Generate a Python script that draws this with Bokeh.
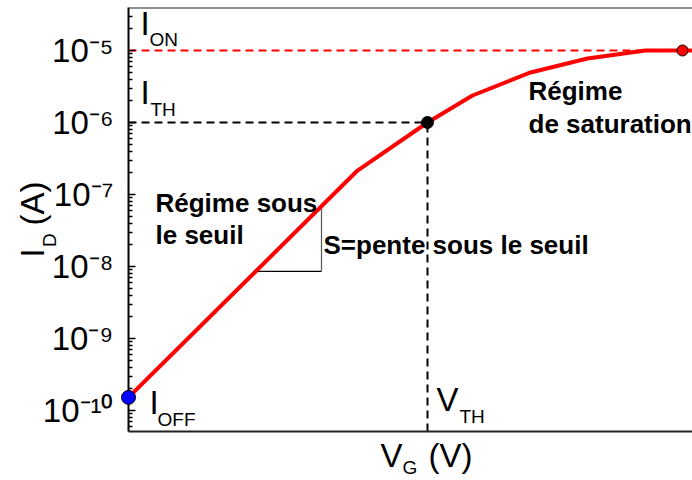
import math
from bokeh.plotting import figure
from bokeh.models import Range1d, FixedTicker, Span, CustomJSTickFormatter
from bokeh.core.properties import value
from bokeh.embed import file_html
from bokeh.resources import INLINE

FONT = "Liberation Sans"

# ---- data ----
vg = [0.0, 2.29, 2.99, 3.44, 4.02, 4.59, 5.17, 5.54, 6.0]
id_a = [1.52e-10, 2.15e-7, 1.0e-6, 2.37e-6, 4.95e-6, 7.74e-6, 1.0e-5, 1.0e-5, 1.0e-5]
i_off = 1.52e-10
i_th = 1.0e-6
i_on = 1.0e-5
v_th = 2.99
v_on = 5.54
slope_x = [1.27, 1.93, 1.93]
slope_y = [8.53e-9, 8.53e-9, 6.59e-8]
exponents = [-10, -9, -8, -7, -6, -5]
tick_labels = ["10\u207b\u00b9\u2070", "10\u207b\u2079", "10\u207b\u2078",
               "10\u207b\u2077", "10\u207b\u2076", "10\u207b\u2075"]

XMIN, XMAX = 0.0, 5.64
YMIN, YMAX = 10 ** -10.292, 10 ** -4.403

p = figure(width=692, height=480, y_axis_type="log",
           x_range=Range1d(XMIN, XMAX), y_range=Range1d(YMIN, YMAX),
           output_backend="svg", toolbar_location=None,
           min_border_left=128, min_border_right=0, min_border_top=7,
           min_border_bottom=49)
p.outline_line_color = None
p.xgrid.visible = False
p.ygrid.visible = False
p.background_fill_color = "white"
p.border_fill_color = "white"

# y axis
major = [10.0 ** e for e in exponents]
minor = [k * 10.0 ** e for e in range(-11, -4) for k in range(2, 10)]
yax = p.yaxis[0]
yax.ticker = FixedTicker(ticks=major, minor_ticks=minor)
yax.formatter = CustomJSTickFormatter(
    args=dict(labels=tick_labels, exps=exponents),
    code="const e = Math.round(Math.log10(tick)); const i = exps.indexOf(e); return i >= 0 ? labels[i] : '';")
yax.axis_line_width = 2
yax.axis_line_color = "black"
yax.major_tick_in = 7
yax.major_tick_out = 0
yax.minor_tick_in = 4
yax.minor_tick_out = 0
yax.major_tick_line_width = 1.5
yax.minor_tick_line_width = 1.5
yax.major_label_standoff = 15
yax.major_label_text_font = FONT
yax.major_label_text_font_size = "33px"
yax.major_label_text_color = "black"

# x axis: line only
xax = p.xaxis[0]
xax.ticker = FixedTicker(ticks=[])
xax.major_label_text_font_size = "0px"
xax.axis_line_width = 2
xax.axis_line_color = "#222222"
xax.major_tick_line_color = None
xax.minor_tick_line_color = None

p.add_layout(Span(location=YMAX, dimension="width", line_color="#222222", line_width=2))

# reference dashed lines
p.line([XMIN, XMAX], [i_on, i_on], line_color="#ff0000", line_width=2, line_dash="8 5")
p.line([XMIN, v_th], [i_th, i_th], line_color="black", line_width=2, line_dash="8 5")
p.line([v_th, v_th], [YMIN, i_th], line_color="black", line_width=2, line_dash="8 5")

# slope triangle
p.line(slope_x[:2], slope_y[:2], line_color="black", line_width=1.2)
p.line(slope_x[1:], slope_y[1:], line_color="#555555", line_width=1.2)

# curve
p.line(vg, id_a, line_color="#ff0000", line_width=4)

# markers
p.scatter([XMIN], [i_off], size=14, fill_color="#0000ff", line_color="black",
          line_width=1, level="overlay")
p.scatter([v_th], [i_th], size=12, fill_color="black", line_color="black")
p.scatter([v_on], [i_on], size=11, fill_color="#ff0000", line_color="black", line_width=1)


def txt(x, y, t, size, bold=False, angle=0.0, level="glyph"):
    fs = float(size.replace("px", ""))
    shift = 0.3 * fs
    xo, yo = (-shift, 0) if angle else (0, -shift)
    p.text(x=x, y=y, text=t, text_font=value(FONT), text_font_size=value(size),
           text_color="black", text_font_style="bold" if bold else "normal",
           text_baseline="alphabetic", text_align="left", angle=angle,
           x_offset=xo, y_offset=yo, level=level)


txt([0.12, 0.12, 0.21, 3.08], [1.72e-5, 1.90e-6, 9.4e-11, 1.03e-10],
    ["I", "I", "I", "V"], "33px")
txt([0.21, 0.22, 0.29, 3.31], [1.17e-5, 1.25e-6, 6.19e-11, 6.8e-11],
    ["ON", "TH", "OFF", "TH"], "19px")
txt([0.27, 0.27, 1.95, 4.00, 4.00], [6.0e-8, 2.15e-8, 1.56e-8, 2.16e-6, 7.5e-7],
    ["Régime sous", "le seuil", "S=pente sous le seuil", "Régime", "de saturation"],
    "26px", bold=True)

# axis titles, drawn outside the frame (overlay level is not clipped)
txt([-0.86, -0.86], [1.33e-8, 3.71e-8], ["I", "(A)"], "33px", angle=math.pi / 2, level="overlay")
txt([-0.73], [1.87e-8], ["D"], "19px", angle=math.pi / 2, level="overlay")
txt([2.52, 3.00], [1.72e-11, 1.72e-11], ["V", "(V)"], "33px", level="overlay")
txt([2.74], [1.35e-11], ["G"], "19px", level="overlay")

open("out.html", "w").write(file_html(p, INLINE))
